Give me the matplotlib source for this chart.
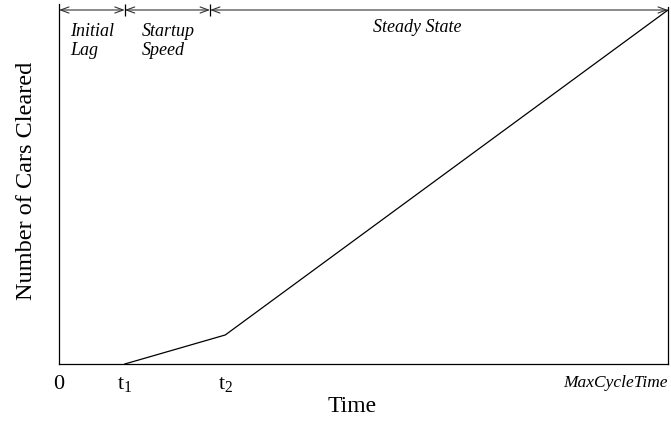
import matplotlib
matplotlib.use("Agg")
import matplotlib.pyplot as plt
from matplotlib.patches import FancyArrowPatch

plt.rcParams['font.family'] = ['Liberation Serif', 'DejaVu Serif']
plt.rcParams['mathtext.fontset'] = 'custom'
plt.rcParams['mathtext.rm'] = 'Liberation Serif'
plt.rcParams['mathtext.it'] = 'Liberation Serif:italic'

# time axis runs 0..100 (MaxCycleTime = 100), cars cleared 0..100
t1 = 10.8
t2 = 27.3
max_time = 100
line_time = [t1, t2, max_time]
line_cars = [0, 8.2, 100]

# phase bands along the top
phase_edges = [0, 10.8, 24.8, 100]
phase_names = [["Initial", "Lag"], ["Startup", "Speed"], ["Steady State"]]

tick_pos = [0, t1, t2]
tick_labels = ['0', r'$\mathrm{t}_1$', r'$\mathrm{t}_2$']

fig = plt.figure(figsize=(6.71, 4.21), dpi=100)
ax = fig.add_axes([59/671, 1-364/421, 609/671, 354/421])

ax.plot(line_time, line_cars, color='black', lw=0.9, clip_on=False)

ax.set_xlim(0, max_time)
ax.set_ylim(0, 100)
ax.spines['top'].set_visible(False)
for s in ['left', 'right', 'bottom']:
    ax.spines[s].set_linewidth(0.9)
ax.spines['left'].set_bounds(0, 101.7)
ax.spines['right'].set_bounds(0, 100.8)

ax.set_yticks([])
ax.set_xticks(tick_pos)
ax.set_xticklabels(tick_labels, fontsize=16)
ax.tick_params(axis='x', length=0, pad=8)

ax.text(max_time, -3, 'MaxCycleTime', style='italic', fontsize=12.5,
        ha='right', va='top', clip_on=False)

ax.set_xlabel('Time', fontsize=17)
ax.xaxis.set_label_coords(0.481, -0.09)
ax.set_ylabel('Number of Cars Cleared', fontsize=17.5)
ax.yaxis.set_label_coords(-0.036, 0.517)

# arrows for the phases
for i in range(len(phase_edges) - 1):
    a = FancyArrowPatch((phase_edges[i], 100), (phase_edges[i+1], 100),
                        arrowstyle='<->,head_length=0.6,head_width=0.22',
                        mutation_scale=10, shrinkA=0, shrinkB=0,
                        color='#333333', lw=0.8, clip_on=False)
    ax.add_patch(a)
ax.vlines(phase_edges[1:3], 98.3, 101.7, color='black', lw=0.9, clip_on=False)

# phase names
ax.text(1.9, 92.7, phase_names[0][0], style='italic', fontsize=13, va='baseline')
ax.text(1.9, 87.2, phase_names[0][1], style='italic', fontsize=13, va='baseline')
ax.text(13.6, 92.7, phase_names[1][0], style='italic', fontsize=13, va='baseline')
ax.text(13.6, 87.2, phase_names[1][1], style='italic', fontsize=13, va='baseline')
ax.text(51.5, 93.8, phase_names[2][0], style='italic', fontsize=13, va='baseline')

fig.savefig('out.png', dpi=100)
